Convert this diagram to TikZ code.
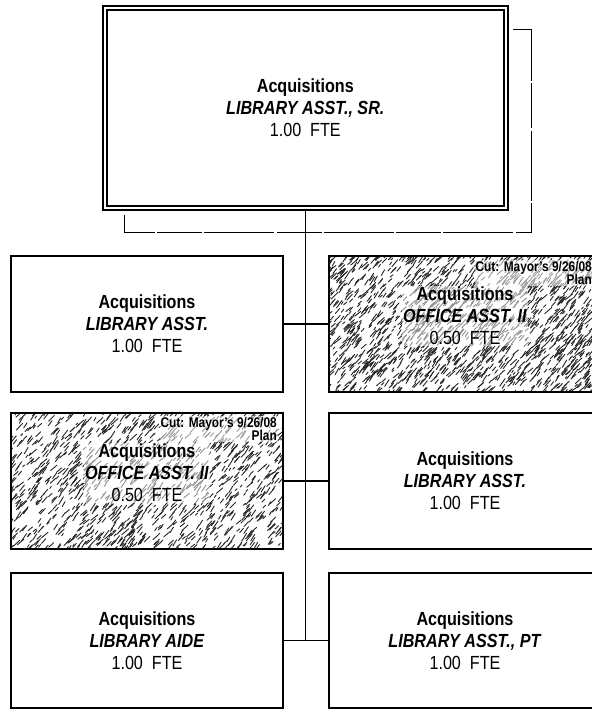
\documentclass[tikz,border=0pt]{standalone}
\usepackage{fontspec}
\setmainfont{Liberation Sans}[FakeStretch=0.85]
\newcommand{\postext}[3]{\textbf{#1}\\\textbf{\textit{#2}}\\#3}
\newcommand{\makehatch}[5]{%
  \begin{scope}
  \clip (#1,#2) rectangle (#3,#4);
  \foreach \k in {1,...,#5}{%
    \pgfmathsetmacro{\hx}{#1-8+(#3-#1+16)*rnd}%
    \pgfmathsetmacro{\hy}{#2-8+(#4-#2+16)*rnd}%
    \pgfmathsetmacro{\hl}{2.5+7*rnd}%
    \pgfmathsetmacro{\ha}{38+22*rnd}%
    \draw[hatchstroke] (\hx,\hy) -- ++({\hl*cos(\ha)},{-\hl*sin(\ha)});
  }
  \end{scope}}
\begin{document}
\begin{tikzpicture}[x=1pt,y=-1pt,
  orgbox/.style={draw, line width=1.8pt, minimum width=272pt, minimum height=136pt, inner sep=0pt,
    align=center, font=\fontsize{19}{22}\selectfont},
  topbox/.style={draw, double, double distance=2.4pt, line width=1.6pt, minimum width=401pt,
    minimum height=200pt, inner sep=0pt, align=center, font=\fontsize{19}{22}\selectfont},
  conn/.style={line width=1.6pt},
  bracketline/.style={line width=1pt, dash pattern=on 70pt off 2pt on 45pt off 2.5pt},
  hatchstroke/.style={line width=0.9pt, black!85, line cap=round},
  cutnote/.style={font=\fontsize{14}{13.5}\selectfont\bfseries, anchor=north east, align=right,
    inner sep=1pt, fill=white, fill opacity=0.55, text opacity=1},
  hattext/.style={align=center, font=\fontsize{19}{22}\selectfont, inner sep=1.5pt,
    fill=white, fill opacity=0.5, text opacity=1}]
\useasboundingbox (0,0) rectangle (592,710);
\fill[white] (0,0) rectangle (592,710);

% hatched backgrounds
\pgfmathsetseed{4711}
\makehatch{330}{257}{600}{391}{2000}
\pgfmathsetseed{1234}
\makehatch{12}{414}{282}{548}{1400}

% top box
\node[topbox] (top) at (305.3,108) {\postext{Acquisitions}{LIBRARY ASST., SR.}{1.00\ \ FTE}};

% bracket
\coordinate (bA) at (513,29);
\coordinate (bB) at (531,29);
\coordinate (bC) at (531,232);
\coordinate (bD) at (124,232);
\coordinate (bE) at (124,215);
\draw[bracketline] (bA) -- (bB) -- (bC) -- (bD) -- (bE);

% row boxes
\node[orgbox] (l1) at (147,324) {\postext{Acquisitions}{LIBRARY ASST.}{1.00\ \ FTE}};
\node[orgbox] (r1) at (465,324) {};
\node[orgbox] (l2) at (147,481) {};
\node[orgbox] (r2) at (465,481) {\postext{Acquisitions}{LIBRARY ASST.}{1.00\ \ FTE}};
\node[orgbox, minimum height=135pt] (l3) at (147,640.5) {\postext{Acquisitions}{LIBRARY AIDE}{1.00\ \ FTE}};
\node[orgbox, minimum height=135pt] (r3) at (465,640.5) {\postext{Acquisitions}{LIBRARY ASST., PT}{1.00\ \ FTE}};

% texts on hatched boxes
\node[cutnote] (c1) at (593,260) {Cut: Mayor's 9/26/08\\Plan};
\node[hattext] (t1) at (465,316) {\postext{Acquisitions}{OFFICE ASST. II}{0.50\ \ FTE}};
\node[cutnote] (c2) at (278,416) {Cut: Mayor's 9/26/08\\Plan};
\node[hattext] (t2) at (147,473) {\postext{Acquisitions}{OFFICE ASST. II}{0.50\ \ FTE}};

% connectors
\draw[conn] (top.south) -- (top.south |- l3.east);
\draw[conn] (l1.east) -- (r1.west);
\draw[conn] (l2.east) -- (r2.west);
\draw[conn] (l3.east) -- (r3.west);
\end{tikzpicture}
\end{document}
